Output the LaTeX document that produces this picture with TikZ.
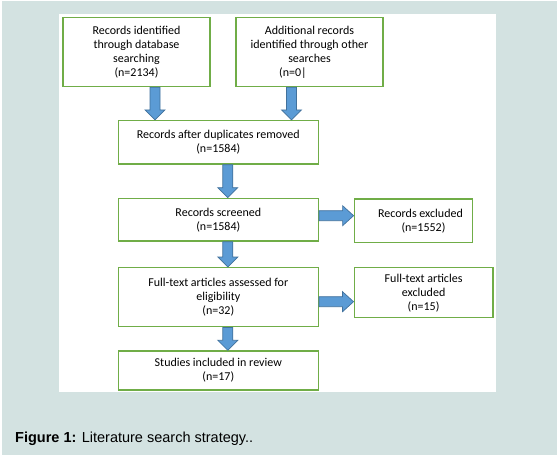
\documentclass[tikz,border=0pt]{standalone}
\usepackage{fontspec}
\setmainfont{Liberation Sans}
\newfontfamily\boxfont{Carlito}
\usetikzlibrary{calc}

\definecolor{pagebg}{HTML}{D3E2E1}
\definecolor{boxgreen}{HTML}{70AD47}
\definecolor{arrowblue}{HTML}{5B9BD5}
\definecolor{arrowedge}{HTML}{41719C}

\tikzset{
  stage/.style={draw=boxgreen, line width=1.4pt, fill=white, align=center, inner sep=0pt,
    font=\boxfont\fontsize{12}{14}\selectfont},
  flowdown/.style={fill=arrowblue, draw=arrowedge, line width=0.7pt,
    to path={let \p1=(\tikztostart), \p2=(\tikztotarget) in
      (\x1-5pt,\y1) -- (\x1-5pt,\y2+10pt) -- (\x1-10pt,\y2+10pt) -- (\x1,\y2)
      -- (\x1+10pt,\y2+10pt) -- (\x1+5pt,\y2+10pt) -- (\x1+5pt,\y1) -- cycle}},
  flowright/.style={fill=arrowblue, draw=arrowedge, line width=0.7pt,
    to path={let \p1=(\tikztostart), \p2=(\tikztotarget) in
      (\x1,\y1+5pt) -- (\x2-11pt,\y1+5pt) -- (\x2-11pt,\y1+10pt) -- (\x2,\y1)
      -- (\x2-11pt,\y1-10pt) -- (\x2-11pt,\y1-5pt) -- (\x1,\y1-5pt) -- cycle}}
}

\begin{document}
\begin{tikzpicture}[x=1pt, y=-1pt]
  \useasboundingbox (0,0) rectangle (557,458);
  \fill[white] (0,0) rectangle (557,458);
  \fill[pagebg] (2,1) rectangle (557,455);
  \fill[white] (59.3,14.3) rectangle (496,391.7);

  \node[stage, minimum width=147pt, minimum height=69pt] (database) at (136.5,52)
    {Records identified\\through database\\searching\\(n=2134)};
  \node[stage, minimum width=147pt, minimum height=69pt] (other) at (309.5,52)
    {Additional records\\identified through other\\searches\\(n=0|\hspace*{33pt}};
  \node[stage, minimum width=200pt, minimum height=43.3pt] (dedup) at (218.3,142.3)
    {Records after duplicates removed\\(n=1584)};
  \node[stage, minimum width=200pt, minimum height=42.7pt] (screened) at (218.3,219.7)
    {Records screened\\(n=1584)};
  \node[stage, minimum width=118.4pt, minimum height=43.3pt] (excluded) at (413.5,220.7)
    {\hspace*{14pt}Records excluded\\\hspace*{20pt}(n=1552)};
  \node[stage, minimum width=200pt, minimum height=59pt] (fulltext) at (218.3,297.2)
    {Full-text articles assessed for\\eligibility\\(n=32)};
  \node[stage, minimum width=138.7pt, minimum height=50pt] (ftexcluded) at (423.6,292.7)
    {Full-text articles\\excluded\\(n=15)};
  \node[stage, minimum width=200pt, minimum height=39pt] (included) at (218.3,370.5)
    {Studies included in review\\(n=17)};

  \draw[flowdown] ([xshift=18.5pt]database.south) to (dedup.north);
  \draw[flowdown] ([xshift=-18pt]other.south) to (dedup.north);
  \draw[flowdown] ([xshift=9.5pt]dedup.south) to (screened.north);
  \draw[flowdown] ([xshift=9.5pt]screened.south) to (fulltext.north);
  \draw[flowdown] ([xshift=9.5pt]fulltext.south) to (included.north);
  \draw[flowright] ([yshift=4pt]screened.east) to (excluded.west);
  \draw[flowright] ([yshift=-4.5pt]fulltext.east) to (ftexcluded.west);

  \node[anchor=base west, inner sep=0pt, font=\fontsize{14.5}{17}\selectfont] (caption) at (15,442.3)
    {\textbf{Figure 1:} Literature search strategy..};
\end{tikzpicture}
\end{document}
